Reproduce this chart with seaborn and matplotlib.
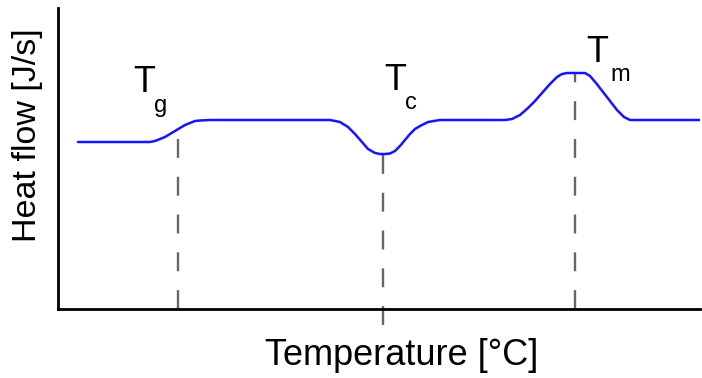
import numpy as np
import pandas as pd
import matplotlib
matplotlib.use('Agg')
import matplotlib.pyplot as plt
import seaborn as sns

# DSC curve (schematic)
temperatura = [78, 150, 155, 160, 165, 170, 175, 180, 185, 190, 195, 200, 210, 330,
               340, 348, 355, 362, 368, 375, 380, 385, 390, 395, 400, 405, 410, 415,
               420, 428, 440, 505, 512, 520, 528, 535, 542, 550, 557, 562, 567, 585,
               590, 596, 603, 610, 617, 624, 630, 700]
fluxo = [167, 167, 168, 170, 172, 175, 178, 181, 184, 186, 188, 188.5, 189, 189,
         187, 182, 175, 167, 160, 156, 155, 155, 155.5, 158, 163, 169, 175, 180,
         183, 187, 189, 189, 190, 194, 201, 208, 216, 225, 232, 235, 236, 236,
         233, 226, 217, 208, 199, 192, 189, 189]

# transitions: position, top of dashed line, bottom of dashed line
trans_x = [178, 383, 575]
trans_topo = [180, 154, 236]
trans_base = [0, -16, 0]
trans_nome = ['g', 'c', 'm']

sns.set_style('white')
plt.rcParams['font.family'] = ['Liberation Sans', 'DejaVu Sans']
plt.rcParams['text.color'] = 'black'
plt.rcParams['axes.labelcolor'] = 'black'

df = pd.DataFrame({'T': temperatura, 'Q': fluxo})

fig = plt.figure(figsize=(7.02, 3.78), dpi=100)
ax = fig.add_axes([58 / 702, (378 - 309) / 378, (700 - 58) / 702, (309 - 8) / 378])

for x, top, base in zip(trans_x, trans_topo, trans_base):
    ax.plot([x, x], [base, top], color='#666666', lw=1.7, dashes=(8, 8),
            clip_on=False, zorder=1)

sns.lineplot(data=df, x='T', y='Q', color='#1414ff', lw=1.8, ax=ax, zorder=3)

# labels T_g, T_c, T_m  (posição do T, deslocamento do índice)
rotulos = [(144, 226, 17), (395, 229, 16), (597, 257, 23)]
for (lx, ly, dx), sub in zip(rotulos, trans_nome):
    ax.text(lx, ly, 'T', fontsize=26, ha='center', va='center')
    ax.text(lx + dx, ly - 23, sub, fontsize=17, ha='center', va='center')

ax.set_xlim(58, 700)
ax.set_ylim(0, 301)
ax.set_xticks([])
ax.set_yticks([])
ax.set_xlabel('Temperature [°C]', fontsize=26)
ax.set_ylabel('Heat flow [J/s]', fontsize=24.5)
ax.xaxis.set_label_coords((402 - 58) / 642, -0.095, transform=ax.transAxes)
ax.xaxis.label.set_va('top')
ax.yaxis.set_label_coords(-0.024, (309 - 135) / 301, transform=ax.transAxes)

sns.despine(ax=ax)
for s in ['left', 'bottom']:
    ax.spines[s].set_color('black')
    ax.spines[s].set_linewidth(2)

fig.savefig('out.png', dpi=100)
